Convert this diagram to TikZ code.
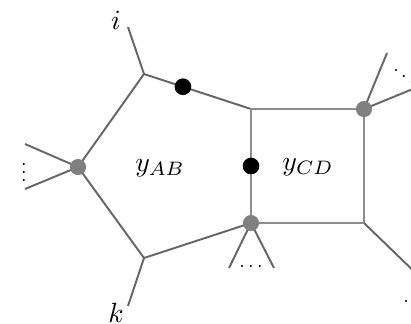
\documentclass[tikz,border=0pt]{standalone}
\usetikzlibrary{calc}
\begin{document}
\begin{tikzpicture}[x=0.36pt,y=-0.36pt,
  edge/.style={draw=black!60,line width=0.7pt},
  sqedge/.style={draw=black!45,line width=0.8pt},
  graydot/.style={circle,fill=black!50,inner sep=0pt,minimum size=5.8pt},
  blackdot/.style={circle,fill=black,inner sep=0pt,minimum size=6pt},
  lbl/.style={inner sep=0pt},
  dotlbl/.style={inner sep=0pt,scale=0.72}]
\useasboundingbox (0,0) rectangle (411,323);

% vertices of the pentagon and the square
\coordinate (P1) at (144,74);
\coordinate (P2) at (251,109);
\coordinate (P3) at (251,223);
\coordinate (P4) at (144,258);
\coordinate (P5) at (78,167);
\coordinate (S2) at (364,109);
\coordinate (S3) at (364,223);

% free ends of the external legs
\coordinate (Ei) at (128,27);
\coordinate (Ek) at (128,306);
\coordinate (El1) at (25,144);
\coordinate (El2) at (25,189);
\coordinate (Eb1) at (229,268);
\coordinate (Eb2) at (274,268);
\coordinate (Er1) at (387,53);
\coordinate (Er2) at (425,84);
\coordinate (Er3) at (425,282);

% pentagon
\draw[edge] (P1) -- (P2);
\draw[edge] (P4) -- (P3);
\draw[edge] (P1) -- (P5) -- (P4);
% square
\draw[sqedge] (P2) -- (S2) -- (S3) -- (P3) -- cycle;

% external legs
\draw[edge] (P1) -- (Ei);
\draw[edge] (P4) -- (Ek);
\draw[edge] (P5) -- (El1);
\draw[edge] (P5) -- (El2);
\draw[edge] (P3) -- (Eb1);
\draw[edge] (P3) -- (Eb2);
\draw[edge] (S2) -- (Er1);
\draw[edge] (S2) -- (Er2);
\draw[edge] (S3) -- (Er3);

% vertex markers
\node[graydot] (g1) at (P5) {};
\node[graydot] (g2) at (P3) {};
\node[graydot] (g3) at (S2) {};
\node[blackdot] (b1) at ($(P1)!0.364!(P2)$) {};
\node[blackdot] (b2) at (251,166) {};

% labels
\node[lbl] (yab) at (160,168) {$y_{AB}$};
\node[lbl] (ycd) at (308,167) {$y_{CD}$};
\node[lbl] (li) at (116,20) {$i$};
\node[lbl] (lk) at (116,313) {$k$};
\node[dotlbl] (dl) at (24,166) {$\vdots$};
\node[dotlbl] (db) at (251,267) {$\cdots$};
\node[dotlbl] (dr) at (404,70) {$\ddots$};
\node[dotlbl] (dr2) at (414,301) {$\ddots$};
\end{tikzpicture}
\end{document}
